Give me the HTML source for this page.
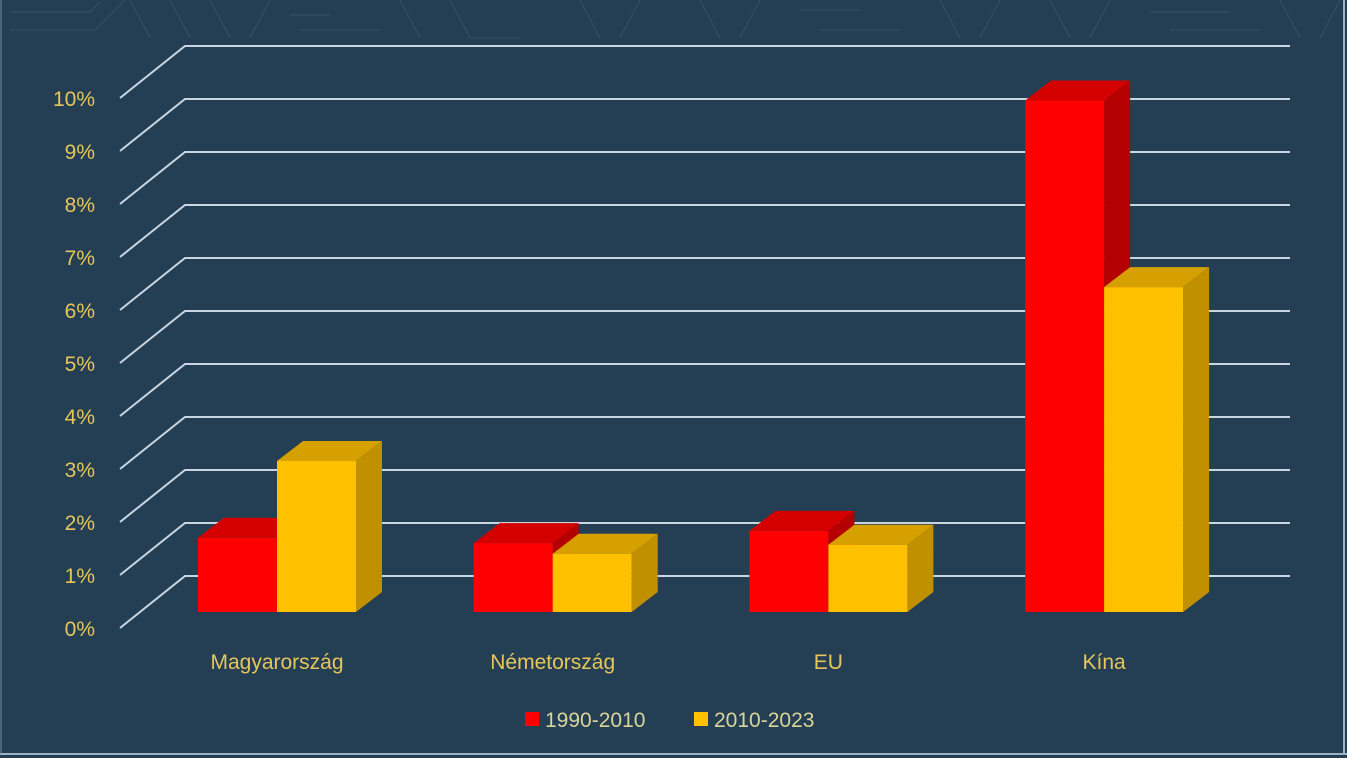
<!DOCTYPE html>
<html><head><meta charset="utf-8">
<style>
html,body{margin:0;padding:0;background:#243f53;}
body{width:1347px;height:758px;overflow:hidden;position:relative;font-family:"Liberation Sans",sans-serif;}
svg{position:absolute;left:0;top:0;}
</style></head>
<body>
<svg id="chart" width="1347" height="758" viewBox="0 0 1347 758">
  <rect x="0" y="0" width="1347" height="758" fill="#243f53"/>
  <g id="deco" stroke="#3a566a" stroke-width="1" fill="none" opacity="0.8">
    <path d="M10 12 H90 L100 2 M10 30 H95 L125 0 M130 0 L150 38 M170 0 L190 38 M210 0 L230 38 M250 38 L270 0 M290 15 H330 M300 30 H380 M400 0 L420 38 M450 0 L470 38 H520 M580 0 L600 38 M620 38 L640 0 M700 0 L720 38 M740 38 L760 0 M800 10 H860 M820 30 H900 M940 0 L960 38 M980 38 L1000 0 M1050 0 L1070 38 M1090 38 L1110 0 M1150 12 H1230 M1170 30 H1260 M1280 0 L1300 38 M1320 38 L1340 0"/>
  </g>
  <g id="grid"></g>
  <g id="ylabels"></g>
  <g id="bars"></g>
  <g id="xlabels"></g>
  <g>
    <rect x="525" y="712" width="14" height="14" fill="#ff0000"/>
    <text x="545" y="727" font-size="21" fill="#d9d49a">1990-2010</text>
    <rect x="694" y="712" width="14" height="14" fill="#ffc000"/>
    <text x="714" y="727" font-size="21" fill="#d9d49a">2010-2023</text>
  </g>
  <line x1="1344" y1="0" x2="1344" y2="754" stroke="#9fb2c2" stroke-width="2"/>
  <line x1="0" y1="754" x2="1347" y2="754" stroke="#9fb2c2" stroke-width="2"/>
  <line x1="1" y1="0" x2="1" y2="754" stroke="#6f8799" stroke-width="1"/>
</svg>
<script>
const categories = ["Magyarország", "Németország", "EU", "Kína"];
const series1990 = [1.4, 1.3, 1.53, 9.65];
const series2010 = [2.85, 1.1, 1.27, 6.13];
const yTicks = [0,1,2,3,4,5,6,7,8,9,10];
const yTickLabels = ["0%","1%","2%","3%","4%","5%","6%","7%","8%","9%","10%"];

const NS = "http://www.w3.org/2000/svg";
const PX = 53;                 // pixels per percentage point
const yFront = v => 628 - v * PX;
const yBack = v => 576 - v * PX;
const yBar = v => 612 - v * PX;
const catX = i => 198 + i * 275.7;   // left of first bar in group
const BW = 79, DX = 26, DY = 20;

function mk(tag, attrs, parent){ const e = document.createElementNS(NS, tag); for (const k in attrs) e.setAttribute(k, attrs[k]); parent.appendChild(e); return e; }

const grid = document.getElementById('grid');
const yl = document.getElementById('ylabels');
yTicks.forEach((t, i) => {
  const p = mk('path', {d:`M120 ${yFront(t)} L185 ${yBack(t)} H1290`, stroke:'#c9d6e2', 'stroke-width':2, fill:'none'}, grid);
  
  
  const tx = mk('text', {x:95, y:yFront(t)+8, 'text-anchor':'end', 'font-size':21, fill:'#e6c65a'}, yl);
  tx.textContent = yTickLabels[i];
  
  
});

const bars = document.getElementById('bars');
function bar(x, v, front, top, side, name){
  const g = mk('g', {}, bars);
  
  
  const yb = yBar(0), yt = yBar(v);
  mk('polygon', {points:`${x+BW},${yb} ${x+BW+DX},${yb-DY} ${x+BW+DX},${yt-DY} ${x+BW},${yt}`, fill:side}, g);
  mk('polygon', {points:`${x},${yt} ${x+DX},${yt-DY} ${x+BW+DX},${yt-DY} ${x+BW},${yt}`, fill:top}, g);
  mk('rect', {x:x, y:yt, width:BW, height:yb-yt, fill:front}, g);
}
const xl = document.getElementById('xlabels');
categories.forEach((c, i) => {
  const x = catX(i);
  bar(x, series1990[i], '#ff0000', '#d40000', '#b40000', 'bar-1990-' + i);
  bar(x + BW, series2010[i], '#ffc000', '#d6a000', '#c09000', 'bar-2010-' + i);
  const t = mk('text', {x:x + BW, y:669, 'text-anchor':'middle', 'font-size':21, fill:'#e6c65a'}, xl);
  t.textContent = c;
  
  
});
</script>
</body></html>
